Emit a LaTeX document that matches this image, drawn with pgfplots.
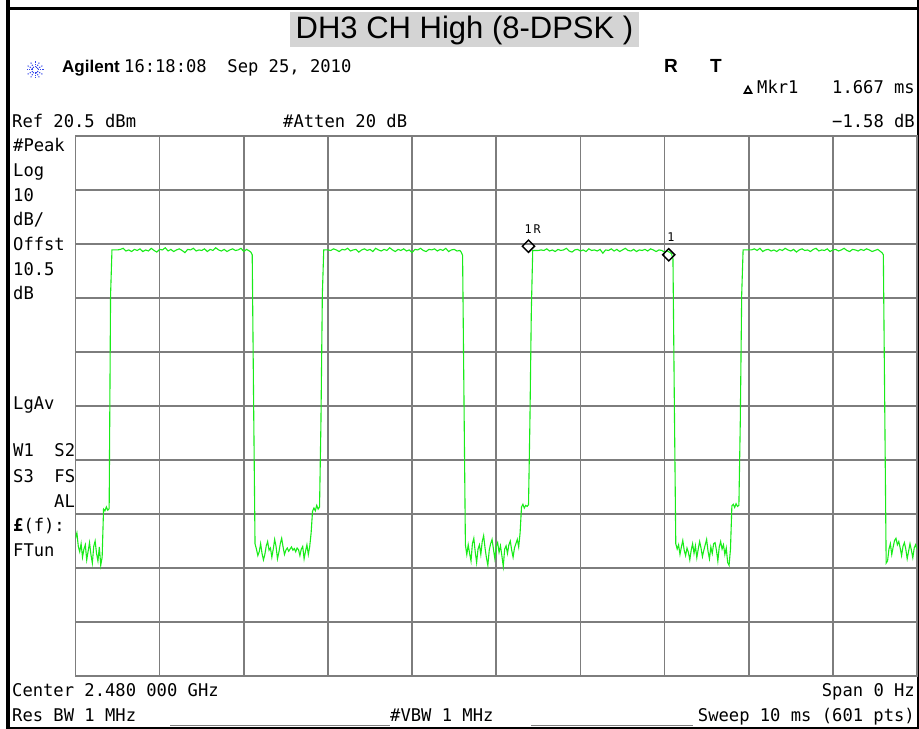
\documentclass[border=0pt]{standalone}
\usepackage{fontspec}
\setmainfont{Liberation Sans}
\newfontfamily\sa{DejaVu Sans Mono}[FakeStretch=0.98]
\usepackage{pgfplots}
\pgfplotsset{compat=1.18}
\definecolor{trace}{RGB}{25,235,25}
\definecolor{gridc}{RGB}{125,125,125}
\definecolor{titlebg}{RGB}{212,212,212}
\definecolor{agblue}{RGB}{50,70,235}
\newcommand{\sz}{\sa\fontsize{17.5bp}{17.5bp}\selectfont}
\newcommand{\ssm}{\sa\fontsize{12bp}{12bp}\selectfont}
\begin{document}
\begin{tikzpicture}[x=1bp,y=1bp]
\path[use as bounding box] (0,0) rectangle (919,729);
% frame
\fill[black] (6,0) rectangle (10,729);
\fill[black] (6,719) rectangle (919,722);
\fill[black] (916.5,0) rectangle (918.5,729);
\fill[black] (6,0) rectangle (919,1.5);
% title
\fill[titlebg] (290,682.3) rectangle (639,717.3);
\node[anchor=base, inner sep=0pt, font=\fontsize{31bp}{31bp}\selectfont] at (464.5,690) {DH3 CH High (8-DPSK )};
% Agilent logo
\foreach \a in {0,30,...,330}{
  \draw[agblue, line width=1bp, dash pattern=on 1.2bp off 1.2bp] (35,659) ++(\a:2.5) -- ++(\a:7);
}
\node[anchor=base west, inner sep=0pt, font=\bfseries\fontsize{17bp}{17bp}\selectfont] at (62,656) {Agilent};
\node[anchor=base west, inner sep=0pt, font=\sz] at (124,656) {16:18:08\ \ Sep 25, 2010};
\node[anchor=base west, inner sep=0pt, font=\bfseries\fontsize{19bp}{19bp}\selectfont] at (664,656) {R};
\node[anchor=base west, inner sep=0pt, font=\bfseries\fontsize{19bp}{19bp}\selectfont] at (710,656) {T};
% marker readout
\draw[line width=1.6bp, line join=miter] (744.5,636) -- (751.5,636) -- (748,642.5) -- cycle;
\node[anchor=base west, inner sep=0pt, font=\sz] at (757,635) {Mkr1};
\node[anchor=base east, inner sep=0pt, font=\sz] at (915,635) {1.667 ms};
\node[anchor=base west, inner sep=0pt, font=\sz] at (12,601) {Ref 20.5 dBm};
\node[anchor=base west, inner sep=0pt, font=\sz] at (283,601) {\#Atten 20 dB};
\node[anchor=base east, inner sep=0pt, font=\sz] at (915,601) {−1.58 dB};
% left column
\node[anchor=base west, inner sep=0pt, font=\sz] at (13,577) {\#Peak};
\node[anchor=base west, inner sep=0pt, font=\sz] at (13,552) {Log};
\node[anchor=base west, inner sep=0pt, font=\sz] at (13,527) {10};
\node[anchor=base west, inner sep=0pt, font=\sz] at (13,503) {dB/};
\node[anchor=base west, inner sep=0pt, font=\sz] at (13,478) {Offst};
\node[anchor=base west, inner sep=0pt, font=\sz] at (13,453) {10.5};
\node[anchor=base west, inner sep=0pt, font=\sz] at (13,429) {dB};
\node[anchor=base west, inner sep=0pt, font=\sz] at (13,319) {LgAv};
\node[anchor=base west, inner sep=0pt, font=\sz] at (13,272) {W1\ \ S2};
\node[anchor=base west, inner sep=0pt, font=\sz] at (13,246) {S3\ \ FS};
\node[anchor=base west, inner sep=0pt, font=\sz] at (54,221) {AL};
\node[anchor=base west, inner sep=0pt, font=\sz] at (13,197) {\textbf{£}(f):};
\node[anchor=base west, inner sep=0pt, font=\sz] at (13,172) {FTun};
% bottom
\node[anchor=base west, inner sep=0pt, font=\sz] at (12,32) {Center 2.480 000 GHz};
\node[anchor=base east, inner sep=0pt, font=\sz] at (915,32) {Span 0 Hz};
\node[anchor=base west, inner sep=0pt, font=\sz] at (12,7) {Res BW 1 MHz};
\node[anchor=base west, inner sep=0pt, font=\sz] at (390,7) {\#VBW 1 MHz};
\node[anchor=base east, inner sep=0pt, font=\sz] at (915,7) {Sweep 10 ms (601 pts)};
\draw[gray, line width=0.8bp] (170,4) -- (390,4);
\draw[gray, line width=0.8bp] (531,4) -- (693,4);
\begin{axis}[
  at={(75.5bp,53bp)}, anchor=south west,
  width=841.5bp, height=540bp, scale only axis,
  xmin=0, xmax=600, ymin=-79.5, ymax=20.5,
  xtick={0,60,120,180,240,300,360,420,480,540,600},
  ytick={-79.5,-69.5,-59.5,-49.5,-39.5,-29.5,-19.5,-9.5,0.5,10.5,20.5},
  xticklabels={}, yticklabels={},
  major tick length=0pt,
  grid=major,
  major grid style={gridc, line width=1.6bp},
  axis line style={gridc, line width=1.8bp},
]
\addplot[trace, line width=1.1bp, mark=none] table[x=i, y=v, row sep=\\] {
i v\\
0 -54.0\\ 1 -53.0\\ 2 -55.5\\ 3 -56.5\\ 4 -55.0\\ 5 -57.5\\ 6 -56.0\\ 7 -55.2\\ 8 -58.0\\ 9 -56.4\\
10 -54.8\\ 11 -57.0\\ 12 -58.6\\ 13 -55.5\\ 14 -54.5\\ 15 -56.8\\ 16 -58.2\\ 17 -55.6\\ 18 -59.0\\ 19 -57.5\\
20 -48.6\\ 21 -48.9\\ 22 -48.2\\ 23 -48.8\\ 24 -48.5\\ 25 -9.0\\
26 -0.6\\ 28 -0.6\\ 30 -0.6\\ 32 -0.5\\ 34 -0.3\\ 36 -0.8\\ 38 -0.6\\ 40 -0.9\\ 42 -0.5\\ 44 -0.7\\
46 -0.4\\ 48 -0.9\\ 50 -0.6\\ 52 -0.8\\ 54 -0.3\\ 56 -0.7\\ 58 -1.0\\ 60 -0.5\\ 62 -0.6\\ 64 -0.2\\
66 -0.8\\ 68 -0.5\\ 70 -0.9\\ 72 -0.6\\ 74 -0.4\\ 76 -0.7\\ 78 -1.1\\ 80 -0.5\\ 82 -0.6\\ 84 -0.3\\
86 -0.8\\ 88 -0.6\\ 90 -0.7\\ 92 -0.4\\ 94 -0.9\\ 96 -0.5\\ 98 -0.7\\ 100 -0.2\\ 102 -0.6\\ 104 -0.8\\
106 -0.5\\ 108 -0.9\\ 110 -0.6\\ 112 -0.4\\ 114 -0.7\\ 116 -0.6\\ 118 -0.3\\ 120 -0.9\\ 122 -0.5\\ 124 -0.8\\
125 -1.0\\ 126 -1.5\\ 127 -28.9\\ 128 -55.0\\
129 -56.0\\ 130 -57.2\\ 131 -56.5\\ 132 -55.0\\ 133 -56.8\\ 134 -58.0\\ 135 -57.0\\ 136 -55.4\\ 137 -54.6\\ 138 -56.2\\
139 -55.8\\ 140 -57.5\\ 141 -56.0\\ 142 -54.2\\ 143 -55.5\\ 144 -57.8\\ 145 -56.6\\ 146 -55.0\\ 147 -54.0\\ 148 -55.6\\
149 -57.0\\ 150 -56.2\\ 151 -55.8\\ 152 -56.4\\ 153 -56.0\\ 154 -55.6\\ 155 -56.2\\ 156 -55.9\\ 157 -56.5\\ 158 -55.8\\
159 -56.1\\ 160 -57.2\\ 161 -56.0\\ 162 -55.5\\ 163 -57.8\\ 164 -56.4\\ 165 -55.2\\ 166 -57.0\\ 167 -55.5\\ 168 -53.0\\
169 -49.0\\ 170 -48.4\\ 171 -48.9\\ 172 -47.9\\ 173 -48.6\\ 174 -48.2\\ 175 -32.6\\ 176 -8.9\\ 177 -0.6\\
178 -0.6\\ 180 -0.6\\ 182 -0.7\\ 184 -0.4\\ 186 -0.6\\ 188 -0.9\\ 190 -0.5\\ 192 -0.6\\ 194 -0.3\\ 196 -0.8\\
198 -0.6\\ 200 -0.5\\ 202 -1.0\\ 204 -0.6\\ 206 -0.4\\ 208 -0.7\\ 210 -0.5\\ 212 -0.9\\ 214 -0.3\\ 216 -0.6\\
218 -0.8\\ 220 -0.5\\ 222 -0.7\\ 224 -0.2\\ 226 -0.6\\ 228 -0.9\\ 230 -0.5\\ 232 -0.7\\ 234 -0.4\\ 236 -0.8\\
238 -0.6\\ 240 -1.1\\ 242 -0.5\\ 244 -0.6\\ 246 -0.3\\ 248 -0.7\\ 250 -0.9\\ 252 -0.5\\ 254 -0.6\\ 256 -0.4\\
258 -0.8\\ 260 -0.5\\ 262 -0.7\\ 264 -0.3\\ 266 -0.9\\ 268 -0.6\\ 270 -0.5\\ 272 -0.8\\ 274 -0.7\\
275 -1.0\\ 276 -1.6\\ 277 -28.5\\ 278 -55.2\\
279 -57.0\\ 280 -55.2\\ 281 -56.8\\ 282 -58.2\\ 283 -55.0\\ 284 -54.0\\ 285 -56.5\\ 286 -58.5\\ 287 -56.0\\ 288 -55.2\\
289 -57.0\\ 290 -54.6\\ 291 -53.5\\ 292 -55.8\\ 293 -57.6\\ 294 -59.0\\ 295 -56.2\\ 296 -55.0\\ 297 -54.2\\ 298 -56.0\\
299 -57.8\\ 300 -55.5\\ 301 -54.8\\ 302 -56.6\\ 303 -55.4\\ 304 -57.2\\ 305 -59.2\\ 306 -56.0\\ 307 -55.4\\ 308 -56.8\\
309 -55.2\\ 310 -54.5\\ 311 -56.2\\ 312 -57.5\\ 313 -55.8\\ 314 -55.0\\ 315 -54.2\\ 316 -55.6\\ 317 -53.0\\
318 -48.2\\ 319 -47.7\\ 320 -48.4\\ 321 -47.9\\ 322 -48.1\\ 323 -47.8\\ 324 -32.4\\ 325 -12.0\\
326 -0.7\\ 328 -0.7\\ 330 -0.7\\ 332 -0.6\\ 334 -0.7\\ 336 -0.4\\ 338 -0.8\\ 340 -0.6\\ 342 -0.9\\ 344 -0.5\\
346 -0.7\\ 348 -0.6\\ 350 -0.3\\ 352 -0.8\\ 354 -1.0\\ 356 -0.6\\ 358 -0.5\\ 360 -0.8\\ 362 -0.6\\ 364 -0.9\\
366 -0.4\\ 368 -0.7\\ 370 -0.6\\ 372 -0.8\\ 374 -0.5\\ 376 -1.2\\ 378 -0.6\\ 380 -0.7\\ 382 -0.4\\ 384 -0.8\\
386 -0.5\\ 388 -0.9\\ 390 -0.6\\ 392 -0.3\\ 394 -0.7\\ 396 -0.8\\ 398 -0.5\\ 400 -0.9\\ 402 -0.6\\ 404 -0.7\\
406 -0.5\\ 408 -0.8\\ 410 -0.4\\ 412 -0.6\\ 414 -0.9\\ 416 -0.6\\ 418 -0.7\\ 420 -1.0\\ 422 -0.8\\ 424 -1.1\\
425 -1.3\\ 426 -2.28\\ 427 -29.5\\ 428 -55.0\\
429 -56.0\\ 430 -55.2\\ 431 -57.0\\ 432 -55.6\\ 433 -54.4\\ 434 -56.2\\ 435 -57.2\\ 436 -55.8\\ 437 -56.6\\ 438 -58.0\\
439 -56.2\\ 440 -55.0\\ 441 -56.8\\ 442 -55.4\\ 443 -57.6\\ 444 -56.0\\ 445 -54.6\\ 446 -55.8\\ 447 -57.4\\ 448 -56.2\\
449 -55.2\\ 450 -54.2\\ 451 -56.4\\ 452 -57.8\\ 453 -55.6\\ 454 -56.8\\ 455 -55.0\\ 456 -54.8\\ 457 -56.2\\ 458 -58.2\\
459 -55.6\\ 460 -54.6\\ 461 -56.0\\ 462 -55.2\\ 463 -57.0\\ 464 -55.8\\ 465 -58.5\\ 466 -59.0\\ 467 -56.0\\
468 -48.0\\ 469 -47.7\\ 470 -48.3\\ 471 -47.6\\ 472 -48.1\\ 473 -47.9\\ 474 -32.4\\ 475 -8.9\\
476 -0.6\\ 478 -0.6\\ 480 -0.6\\ 482 -0.6\\ 484 -0.4\\ 486 -0.7\\ 488 -0.3\\ 490 -0.9\\ 492 -0.6\\ 494 -0.5\\
496 -0.8\\ 498 -0.6\\ 500 -0.9\\ 502 -0.5\\ 504 -0.7\\ 506 -0.3\\ 508 -0.6\\ 510 -0.8\\ 512 -0.5\\ 514 -1.0\\
516 -0.6\\ 518 -0.4\\ 520 -0.7\\ 522 -0.6\\ 524 -0.9\\ 526 -0.5\\ 528 -0.3\\ 530 -0.8\\ 532 -0.6\\ 534 -0.7\\
536 -0.4\\ 538 -0.9\\ 540 -0.6\\ 542 -0.5\\ 544 -0.8\\ 546 -0.6\\ 548 -0.3\\ 550 -0.7\\ 552 -0.9\\ 554 -0.5\\
556 -0.6\\ 558 -0.8\\ 560 -0.5\\ 562 -0.7\\ 564 -0.4\\ 566 -0.6\\ 568 -0.9\\ 570 -0.7\\ 572 -0.5\\ 574 -0.9\\
575 -1.1\\ 576 -1.5\\ 577 -29.8\\ 578 -58.6\\
579 -58.2\\ 580 -56.0\\ 581 -55.0\\ 582 -57.0\\ 583 -55.6\\ 584 -54.4\\ 585 -54.0\\ 586 -55.2\\ 587 -54.6\\ 588 -55.8\\
589 -57.2\\ 590 -55.5\\ 591 -54.8\\ 592 -56.0\\ 593 -57.8\\ 594 -56.4\\ 595 -55.0\\ 596 -56.2\\ 597 -57.6\\ 598 -55.8\\
599 -55.2\\ 600 -56.0\\
};
\addplot[only marks, mark=square, mark size=4.3bp,
  mark options={rotate=45, draw=black, fill=white, line width=1.5bp, yshift=6bp}]
  coordinates {(326,-0.7) (426,-2.28)};
\node[anchor=base, inner sep=0pt, font=\ssm] at (axis cs:326,-0.7) [yshift=17bp] {1\,R};
\node[anchor=base, inner sep=0pt, font=\ssm] at (axis cs:426,-2.28) [yshift=17bp, xshift=-2bp] {1};
\end{axis}
\end{tikzpicture}
\end{document}
